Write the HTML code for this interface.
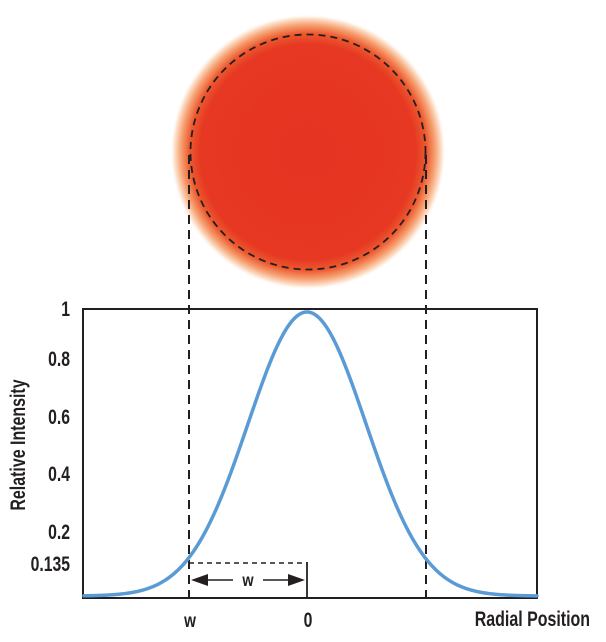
<!DOCTYPE html>
<html><head><meta charset="utf-8"><style>
html,body{margin:0;padding:0;background:#fff;}
svg{display:block;}
.t{font-family:"Liberation Sans",sans-serif;fill:#231f20;font-weight:bold;}
</style></head><body>
<svg id="s" width="606" height="642" viewBox="0 0 606 642" xmlns="http://www.w3.org/2000/svg">
<defs>
<radialGradient id="g" cx="308" cy="152" r="138" gradientUnits="userSpaceOnUse">
<stop offset="0" stop-color="#e53422"/>
<stop offset="0.78" stop-color="#e63822"/>
<stop offset="0.86" stop-color="#ec5a30"/>
<stop offset="0.92" stop-color="#f6a070"/>
<stop offset="0.97" stop-color="#fde3cf"/>
<stop offset="1" stop-color="#ffffff" stop-opacity="0"/>
</radialGradient>
</defs>
<circle cx="308" cy="152" r="138" fill="url(#g)"/>
<circle cx="308" cy="152" r="117.5" fill="none" stroke="#231f20" stroke-width="1.8" stroke-dasharray="7,5"/>
<line x1="189" y1="155" x2="189" y2="598" stroke="#231f20" stroke-width="2" stroke-dasharray="9,6"/>
<line x1="426" y1="155" x2="426" y2="598" stroke="#231f20" stroke-width="2" stroke-dasharray="9,6"/>
<rect x="83" y="309" width="454" height="289" fill="none" stroke="#231f20" stroke-width="2"/>
<path id="c" fill="none" stroke="#5b9bd5" stroke-width="3.5" stroke-linecap="round"/>
<line x1="189" y1="563" x2="307" y2="563" stroke="#231f20" stroke-width="1.6" stroke-dasharray="5,4"/>
<line x1="307" y1="562" x2="307" y2="598" stroke="#231f20" stroke-width="1.8"/>
<line x1="200" y1="580" x2="233" y2="580" stroke="#231f20" stroke-width="1.6"/>
<line x1="263" y1="580" x2="296" y2="580" stroke="#231f20" stroke-width="1.6"/>
<polygon points="191,580 208,574 208,586" fill="#231f20"/>
<polygon points="305,580 288,574 288,586" fill="#231f20"/>
<text class="t" transform="translate(248,586) scale(0.8,1)" font-size="18" text-anchor="middle">w</text>
<g class="t" font-size="21" text-anchor="end">
<text transform="translate(70,316) scale(0.75,1)">1</text>
<text transform="translate(70,366) scale(0.75,1)">0.8</text>
<text transform="translate(70,424) scale(0.75,1)">0.6</text>
<text transform="translate(70,481) scale(0.75,1)">0.4</text>
<text transform="translate(70,539) scale(0.75,1)">0.2</text>
<text transform="translate(70,571) scale(0.75,1)">0.135</text>
</g>
<text class="t" transform="translate(190,627) scale(0.8,1)" font-size="19" text-anchor="middle">w</text>
<text class="t" transform="translate(308,627) scale(0.75,1)" font-size="21" text-anchor="middle">0</text>
<text class="t" transform="translate(590,626) scale(0.76,1)" font-size="21" text-anchor="end">Radial Position</text>
<text class="t" transform="translate(25,445) rotate(-90) scale(0.76,1)" font-size="21" text-anchor="middle">Relative Intensity</text>
</svg>
<script>
var d="";for(var x=84;x<=537;x+=1){var u=(x-307)/118;var I=Math.exp(-2*u*u);var y=596-284*I;d+=(x==84?"M":"L")+x+","+y.toFixed(2);}
document.getElementById("c").setAttribute("d",d);
</script>
</body></html>
